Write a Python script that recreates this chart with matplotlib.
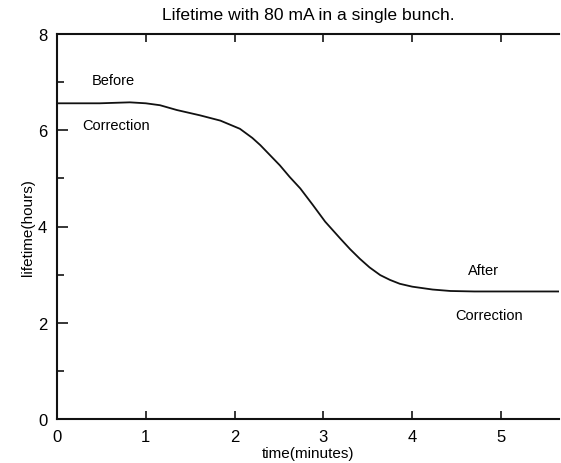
"""
Lifetime with 80 mA in a single bunch, before / after correction
"""
import matplotlib
matplotlib.use("Agg")
import matplotlib.pyplot as plt
from matplotlib.ticker import MultipleLocator, FixedLocator

# values
time_min = [0, 0.25, 0.48, 0.82, 1.0, 1.16, 1.35, 1.61, 1.84, 2.06, 2.20,
            2.29, 2.40, 2.51, 2.62, 2.74, 2.88, 3.02, 3.19, 3.30, 3.41, 3.52,
            3.64, 3.75, 3.86, 4.00, 4.23, 4.43, 4.70, 5.00, 5.30, 5.65]
lifetime_h = [6.56, 6.56, 6.56, 6.58, 6.56, 6.52, 6.42, 6.31, 6.20, 6.03, 5.84,
              5.69, 5.48, 5.27, 5.03, 4.79, 4.45, 4.10, 3.75, 3.53, 3.33, 3.15,
              2.99, 2.89, 2.81, 2.75, 2.69, 2.66, 2.65, 2.65, 2.65, 2.65]
x_ticks = [0, 1, 2, 3, 4, 5]
y_ticks = [0, 2, 4, 6, 8]

plt.rcParams["font.family"] = ["Liberation Sans", "DejaVu Sans"]

fig = plt.figure(figsize=(5.61, 4.64), dpi=100)
ax = fig.add_axes([57 / 561, 1 - 420 / 464, 502 / 561, 385 / 464])

ax.plot(time_min, lifetime_h, color="#111111", lw=1.3)

ax.set_xlim(0, 502 / 88.8)
ax.set_ylim(0, 8)

ax.xaxis.set_major_locator(FixedLocator(x_ticks))
ax.yaxis.set_major_locator(FixedLocator(y_ticks))
ax.yaxis.set_minor_locator(MultipleLocator(1))

ax.spines["right"].set_visible(False)
for side in ("left", "bottom", "top"):
    ax.spines[side].set_linewidth(1.5)
    ax.spines[side].set_color("#111111")

ax.tick_params(axis="x", which="major", direction="in", length=6, width=1.1,
               top=True, labelsize=12, pad=7)
ax.tick_params(axis="y", which="major", direction="in", length=8, width=1.1,
               labelsize=12, pad=7)
ax.tick_params(axis="y", which="minor", direction="in", length=5, width=1.1)

ax.set_xlabel("time(minutes)", fontsize=11, labelpad=2)
ax.set_ylabel("lifetime(hours)", fontsize=11, labelpad=2)
ax.set_title("Lifetime with 80 mA in a single bunch.", fontsize=12.6, pad=11)

ax.text(0.63, 7.04, "Before", fontsize=10.5, ha="center", va="center")
ax.text(0.66, 6.1, "Correction", fontsize=10.5, ha="center", va="center")
ax.text(4.8, 3.1, "After", fontsize=10.5, ha="center", va="center")
ax.text(4.87, 2.17, "Correction", fontsize=10.5, ha="center", va="center")

fig.savefig("out.png", dpi=100)
